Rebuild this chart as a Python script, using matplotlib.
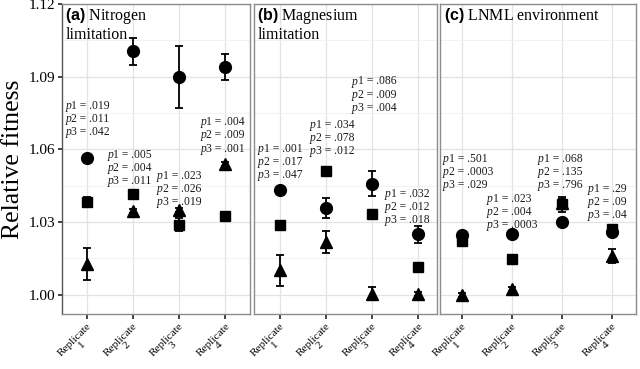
import matplotlib
matplotlib.use('Agg')
import matplotlib.pyplot as plt
import numpy as np

plt.rcParams['font.family'] = ['Liberation Serif', 'DejaVu Serif']
plt.rcParams['mathtext.fontset'] = 'custom'
plt.rcParams['mathtext.rm'] = 'Liberation Serif'
plt.rcParams['mathtext.it'] = 'Liberation Serif:italic'
plt.rcParams['mathtext.bf'] = 'Liberation Sans:bold'

replicates = ['Replicate\n1', 'Replicate\n2', 'Replicate\n3', 'Replicate\n4']
yticks = [1.00, 1.03, 1.06, 1.09, 1.12]

# (a) Nitrogen limitation
nitro_circle = [1.0566, 1.1004, 1.0900, 1.0940]
nitro_circle_err = [0.0008, 0.0056, 0.0128, 0.0052]
nitro_square = [1.0382, 1.0414, 1.0289, 1.0325]
nitro_square_err = [0.0020, 0.0008, 0.0026, 0.0008]
nitro_triangle = [1.0128, 1.0345, 1.0350, 1.0538]
nitro_triangle_err = [0.0066, 0.0008, 0.0008, 0.0008]
nitro_p = [('.019', '.011', '.042'), ('.005', '.004', '.011'),
           ('.023', '.026', '.019'), ('.004', '.009', '.001')]

# (b) Magnesium limitation
mag_circle = [1.0430, 1.0357, 1.0458, 1.0249]
mag_circle_err = [0.0008, 0.0040, 0.0052, 0.0034]
mag_square = [1.0289, 1.0510, 1.0333, 1.0113]
mag_square_err = [0.0008, 0.0008, 0.0008, 0.0008]
mag_triangle = [1.0100, 1.0217, 1.0004, 1.0004]
mag_triangle_err = [0.0063, 0.0045, 0.0026, 0.0008]
mag_p = [('.001', '.017', '.047'), ('.034', '.078', '.012'),
         ('.086', '.009', '.004'), ('.032', '.012', '.018')]

# (c) LNML environment
lnml_circle = [1.0245, 1.0249, 1.0301, 1.0258]
lnml_circle_err = [0.0008, 0.0012, 0.0008, 0.0008]
lnml_square = [1.0221, 1.0149, 1.0373, 1.0273]
lnml_square_err = [0.0022, 0.0008, 0.0030, 0.0008]
lnml_triangle = [1.0000, 1.0024, 1.0380, 1.0160]
lnml_triangle_err = [0.0008, 0.0008, 0.0015, 0.0030]
lnml_p = [('.501', '.0003', '.029'), ('.023', '.004', '.0003'),
          ('.068', '.135', '.796'), ('.29', '.09', '.04')]

panels = [
    dict(title=r'$\mathbf{(a)}$ Nitrogen' + '\nlimitation',
         circle=(nitro_circle, nitro_circle_err),
         square=(nitro_square, nitro_square_err),
         triangle=(nitro_triangle, nitro_triangle_err),
         pvals=nitro_p,
         pos=[(0.53, 1.0779), (1.45, 1.0578), (2.52, 1.0490), (3.46, 1.0711)],
         box=(62, 250), xlim=(0.46, 4.54)),
    dict(title=r'$\mathbf{(b)}$ Magnesium' + '\nlimitation',
         circle=(mag_circle, mag_circle_err),
         square=(mag_square, mag_square_err),
         triangle=(mag_triangle, mag_triangle_err),
         pvals=mag_p,
         pos=[(0.52, 1.0602), (1.65, 1.0699), (2.57, 1.0880), (3.28, 1.0414)],
         box=(254, 437), xlim=(0.44, 4.41)),
    dict(title=r'$\mathbf{(c)}$ LNML environment',
         circle=(lnml_circle, lnml_circle_err),
         square=(lnml_square, lnml_square_err),
         triangle=(lnml_triangle, lnml_triangle_err),
         pvals=lnml_p,
         pos=[(0.62, 1.0562), (1.50, 1.0394), (2.52, 1.0562), (3.52, 1.0438)],
         box=(440, 636), xlim=(0.56, 4.48)),
]

W, H = 640, 369
fig = plt.figure(figsize=(W / 100, H / 100), dpi=100)

x = np.arange(1, 5)
border = '#8c8c8c'
pfont = 8.4
for i, p in enumerate(panels):
    left, right = p['box']
    ax = fig.add_axes([left / W, (H - 314) / H, (right - left) / W, 310 / H])
    ax.set_xlim(*p['xlim'])
    ax.set_ylim(0.992, 1.12)
    ax.set_yticks(yticks)
    ax.set_yticks([1.015, 1.045, 1.075, 1.105], minor=True)
    ax.set_xticks(x)
    ax.set_xticklabels(replicates, rotation=45, ha='right', va='top',
                       rotation_mode='anchor', multialignment='center',
                       fontsize=8.1, linespacing=0.9)
    ax.grid(True, which='major', color='#e3e3e3', lw=0.9)
    ax.grid(True, which='minor', axis='y', color='#f0f0f0', lw=0.6)
    ax.set_axisbelow(True)
    for s in ax.spines.values():
        s.set_color(border)
        s.set_linewidth(1.0)
    ax.tick_params(axis='x', length=3.5, width=1.2, color='#222222', pad=1.5)
    ax.tick_params(which='minor', length=0)
    if i == 0:
        ax.set_yticklabels(['%.2f' % t for t in yticks], fontsize=11)
        ax.tick_params(axis='y', length=3, width=1.2, color='#222222', pad=2)
        ax.spines['left'].set_color('#555555')
        ax.set_ylabel('Relative fitness', fontsize=18.5, labelpad=3)
    else:
        ax.tick_params(axis='y', length=0, labelleft=False)

    for key, mk, ms in [('circle', 'o', 8.5), ('square', 's', 7.5), ('triangle', '^', 9)]:
        vals, errs = p[key]
        ax.errorbar(x, vals, yerr=errs, fmt=mk, ms=ms, color='black',
                    ecolor='black', elinewidth=1.3, capsize=3, capthick=1.3, zorder=3)

    # p-value blocks: italic "p" then the rest of the line, one line at a time
    for (tx, ty), pv in zip(p['pos'], p['pvals']):
        for k, v in enumerate(pv):
            ax.annotate('p', xy=(tx, ty), xytext=(0, -9.4 * k),
                        textcoords='offset points', fontsize=pfont, style='italic',
                        ha='left', va='center', color='#1a1a1a')
            ax.annotate('%d = %s' % (k + 1, v), xy=(tx, ty),
                        xytext=(0.5 * pfont, -9.4 * k), textcoords='offset points',
                        fontsize=pfont, ha='left', va='center', color='#1a1a1a')

    ax.text(0.018, 0.995, p['title'], transform=ax.transAxes, fontsize=11.5,
            ha='left', va='top', linespacing=1.1)

fig.savefig('out.png', dpi=100)
